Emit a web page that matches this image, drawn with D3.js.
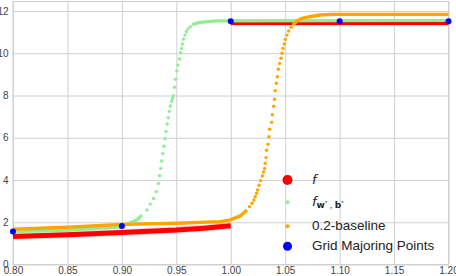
<!DOCTYPE html>
<html>
<head>
<meta charset="utf-8">
<script src="https://cdn.jsdelivr.net/npm/d3@7"></script>
<style>
  body { margin: 0; background: #fff; }
  svg { display: block; }
  .tick text { font-family: "Liberation Sans", Arial, sans-serif; font-size: 10px; fill: #444; }
  .legend text { font-family: "Liberation Sans", Arial, sans-serif; font-size: 13.5px; fill: #222; }
</style>
</head>
<body>
<div id="chart"></div>
<script>
const xTicks = [0.80, 0.85, 0.90, 0.95, 1.00, 1.05, 1.10, 1.15, 1.20];
const yTicks = [0, 2, 4, 6, 8, 10, 12];

// f (red) - two flat pieces
const fLowX = [0.80, 0.85, 0.90, 0.95, 0.975, 1.00];
const fLowY = [1.32, 1.41, 1.51, 1.63, 1.72, 1.83];
const fHighX = [1.00, 1.20];
const fHighY = [11.45, 11.45];

// f_w*,b* (light green)
const gLowX = [0.80, 0.85, 0.90, 0.9076, 0.9138, 0.9184];
const gLowY = [1.55, 1.63, 1.78, 1.98, 2.11, 2.34];
const gRiseX = [0.9230, 0.9260, 0.9290, 0.9315, 0.9336, 0.9346, 0.9356, 0.9366, 0.9376, 0.9386, 0.9396,
  0.9406, 0.9416, 0.9426, 0.9436, 0.9446, 0.9456, 0.9465, 0.9474, 0.9483, 0.9493, 0.9505, 0.9515,
  0.9529, 0.9539, 0.9548, 0.9557, 0.9566, 0.9579, 0.9591, 0.9607, 0.9628, 0.9658];
const gRiseY = [2.58, 2.86, 3.13, 3.45, 3.84, 4.2, 4.55, 4.9, 5.25, 5.6, 5.95,
  6.3, 6.65, 6.95, 7.25, 7.5, 7.72, 7.86, 7.99, 8.39, 8.77, 9.16, 9.44,
  9.73, 10.03, 10.23, 10.44, 10.66, 10.86, 11.02, 11.15, 11.26, 11.37];
const gHighX = [0.9658, 0.9704, 0.9766, 0.9873, 1.20];
const gHighY = [11.37, 11.45, 11.49, 11.53, 11.55];

// 0.2-baseline (orange)
const oLowX = [0.80, 0.85, 0.90, 0.95, 0.9904, 0.9996, 1.0088, 1.0149];
const oLowY = [1.67, 1.76, 1.90, 1.95, 2.03, 2.11, 2.30, 2.58];
const oRiseX = [1.0172, 1.0195, 1.0212, 1.0225, 1.0237, 1.0247, 1.0260, 1.0274, 1.0290, 1.0302, 1.0311,
  1.0317, 1.0324, 1.0329, 1.0342, 1.0351, 1.0357, 1.0375, 1.0382, 1.0394, 1.0403, 1.0409, 1.0419,
  1.0428, 1.0437, 1.0449, 1.0462, 1.0471, 1.0480, 1.0492, 1.0501, 1.0517, 1.0532, 1.0554, 1.0578];
const oRiseY = [2.74, 2.90, 3.05, 3.21, 3.37, 3.53, 3.75, 3.97, 4.19, 4.38, 4.55,
  4.79, 5.06, 5.41, 5.69, 6.05, 6.40, 6.73, 7.09, 7.49, 7.82, 8.23, 8.58,
  8.89, 9.24, 9.52, 9.76, 10.0, 10.23, 10.44, 10.66, 10.86, 11.05, 11.23, 11.38];
const oHighX = [1.0578, 1.0609, 1.0655, 1.0725, 1.0817, 1.0940, 1.20];
const oHighY = [11.38, 11.53, 11.65, 11.73, 11.81, 11.84, 11.84];

// grid majoring points (blue)
const gridX = [0.80, 0.90, 1.00, 1.10, 1.20];
const gridY = [1.56, 1.82, 11.52, 11.52, 11.52];

const legendNames = ["f", "fw*,b*", "0.2-baseline", "Grid Majoring Points"];
const legendColors = ["red", "lightgreen", "orange", "blue"];

let dimensions = {
  width: 456,
  height: 276,
  margin: { top: 1.5, bottom: 11.5, left: 13, right: 7.5 }
};

const svg = d3.select('#chart')
  .append('svg')
  .attr('width', dimensions.width)
  .attr('height', dimensions.height);

const x = d3.scaleLinear()
  .domain([0.80, 1.20])
  .range([dimensions.margin.left, dimensions.width - dimensions.margin.right]);

const y = d3.scaleLinear()
  .domain([0, 12.45])
  .range([dimensions.height - dimensions.margin.bottom, dimensions.margin.top]);

const plotH = y(0) - y(12.45);
const plotW = x(1.20) - x(0.80);

// grid + tick labels
svg.append('g')
  .attr('transform', `translate(0,${y(0)})`)
  .call(d3.axisBottom(x).tickValues(xTicks).tickFormat(d3.format('.2f')).tickSize(-plotH).tickPadding(2))
  .call(g => g.select('.domain').remove())
  .call(g => g.selectAll('.tick line').attr('stroke', '#d0d0d0'));

svg.append('g')
  .attr('transform', `translate(${x(0.80)},0)`)
  .call(d3.axisLeft(y).tickValues(yTicks).tickSize(-plotW).tickPadding(4.5))
  .call(g => g.select('.domain').remove())
  .call(g => g.selectAll('.tick line').attr('stroke', '#d0d0d0'));

svg.append('rect')
  .attr('x', x(0.80))
  .attr('y', y(12.45))
  .attr('width', plotW)
  .attr('height', plotH)
  .attr('fill', 'none')
  .attr('stroke', '#d0d0d0');

const zip = (xs, ys) => xs.map((v, i) => [v, ys[i]]);
const line = d3.line().x(d => x(d[0])).y(d => y(d[1]));
const ctr = svg.append('g');

function band(xs, ys, color, w, op) {
  ctr.append('path')
    .datum(zip(xs, ys))
    .attr('d', line)
    .attr('fill', 'none')
    .attr('stroke', color)
    .attr('stroke-width', w)
    .attr('stroke-opacity', op || 1);
}

function dots(xs, ys, color, r) {
  ctr.append('g')
    .selectAll('circle')
    .data(zip(xs, ys))
    .join('circle')
    .attr('cx', d => x(d[0]))
    .attr('cy', d => y(d[1]))
    .attr('r', r)
    .attr('fill', color);
}

// f
band(fLowX, fLowY, 'red', 7, 0.15);
band(fHighX, fHighY, 'red', 7, 0.15);
band(fLowX, fLowY, 'red', 5);
band(fHighX, fHighY, 'red', 5);

// f_w*,b*
band(gLowX, gLowY, 'lightgreen', 3.2);
dots(gRiseX, gRiseY, 'lightgreen', 1.7);
band(gHighX, gHighY, 'lightgreen', 3.2);

// baseline
band(oLowX, oLowY, 'orange', 3.4);
dots(oRiseX, oRiseY, 'orange', 1.7);
band(oHighX, oHighY, 'orange', 3.4);

// grid points
dots(gridX, gridY, 'blue', 3);

// legend
const legendY = [180, 202.3, 226.3, 246.3];
const legendR = [5, 2, 2, 4.5];
const legend = svg.append('g').attr('class', 'legend');

legend.selectAll('circle')
  .data(legendColors)
  .join('circle')
  .attr('cx', 287.5)
  .attr('cy', (d, i) => legendY[i])
  .attr('r', (d, i) => legendR[i])
  .attr('fill', d => d);

legend.append('text')
  .attr('x', 312)
  .attr('y', legendY[0] + 4)
  .style('font-family', '"DejaVu Sans"')
  .style('font-style', 'italic')
  .style('font-size', '13px')
  .text(legendNames[0]);

const fw = legend.append('text')
  .attr('x', 312)
  .attr('y', legendY[1] + 4);
fw.append('tspan').style('font-family', '"DejaVu Sans"').style('font-style', 'italic').style('font-size', '13px').text('f');
fw.append('tspan').attr('dy', 2).style('font-family', '"DejaVu Sans"').style('font-weight', 'bold').style('font-size', '9px').text('w');
fw.append('tspan').attr('dy', -3).style('font-size', '6px').text('*');
fw.append('tspan').attr('dy', 3).style('font-size', '9px').text(' , ');
fw.append('tspan').style('font-family', '"DejaVu Sans"').style('font-weight', 'bold').style('font-size', '9px').text('b');
fw.append('tspan').attr('dy', -3).style('font-size', '6px').text('*');

legend.append('text')
  .attr('x', 312)
  .attr('y', legendY[2] + 4)
  .text(legendNames[2]);

legend.append('text')
  .attr('x', 312)
  .attr('y', legendY[3] + 3.5)
  .text(legendNames[3]);
</script>
</body>
</html>
